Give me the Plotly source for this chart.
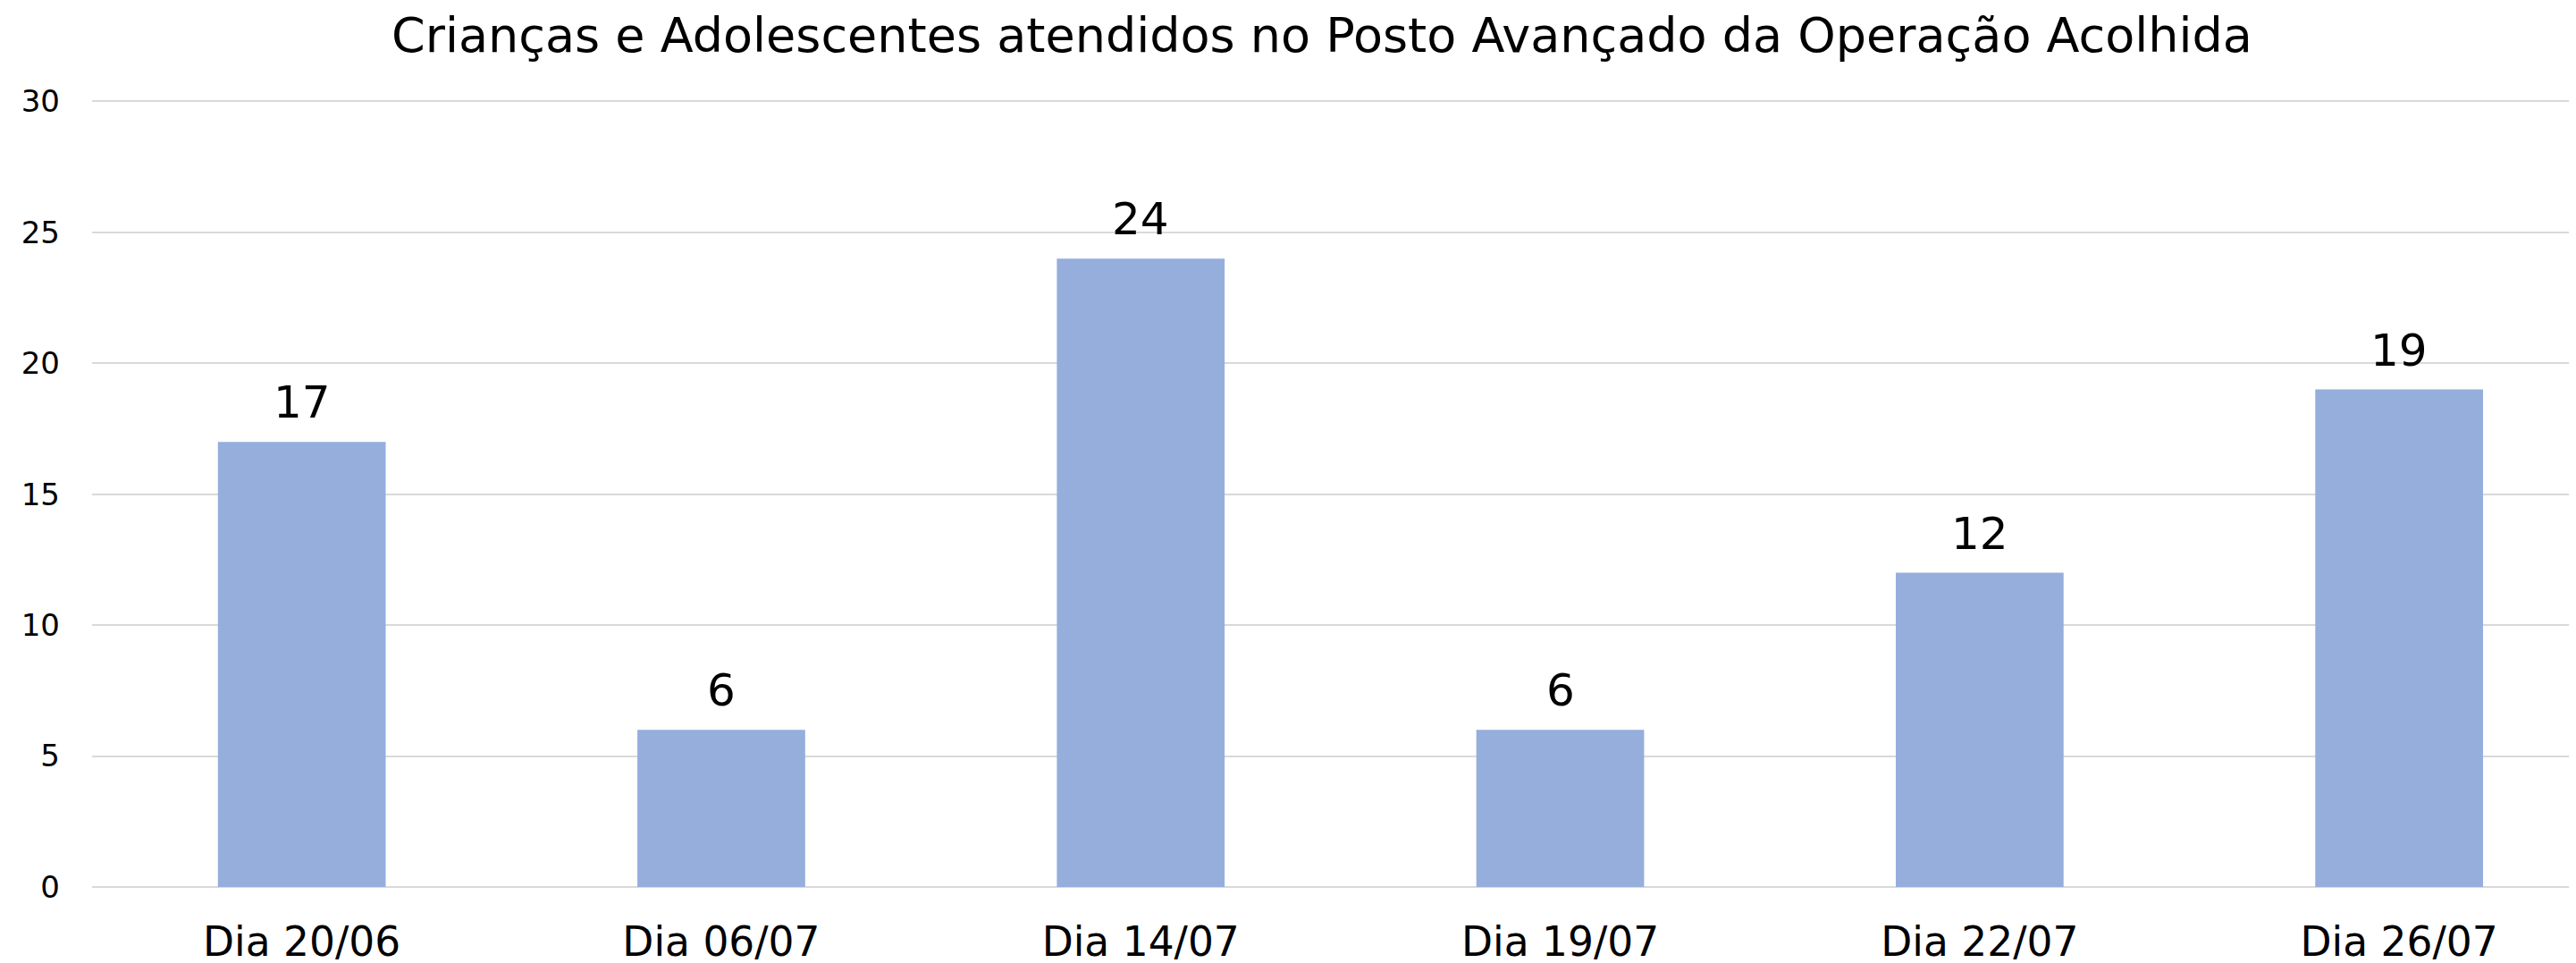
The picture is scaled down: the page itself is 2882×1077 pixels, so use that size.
import plotly.graph_objects as go

categories = ["Dia 20/06", "Dia 06/07", "Dia 14/07", "Dia 19/07", "Dia 22/07", "Dia 26/07"]
values = [17, 6, 24, 6, 12, 19]
y_ticks = [0, 5, 10, 15, 20, 25, 30]
title_text = "Crianças e Adolescentes atendidos no Posto Avançado da Operação Acolhida"

W, H = 2882, 1077
FONT = "DejaVu Sans"
BAR = "#95AEDC"
GRID = "#D9D9D9"

fig = go.Figure()
fig.add_trace(go.Bar(
    x=categories, y=values, marker=dict(color=BAR, line=dict(width=0)),
    width=0.4, hoverinfo="skip",
))

for c, v in zip(categories, values):
    fig.add_annotation(x=c, y=v, text=str(v), showarrow=False, yanchor="bottom",
                       yshift=13, font=dict(family=FONT, size=50, color="#000000"))

left = 95
plot_w = W - left
cat_w = 469.3
x_hi = -0.5 + plot_w / cat_w

fig.update_layout(
    width=W, height=H,
    margin=dict(l=left, r=0, t=104, b=H - 984, pad=0),
    paper_bgcolor="white", plot_bgcolor="white",
    showlegend=False,
    title=dict(text=title_text, x=1471 / W, xanchor="center", y=1 - 31 / H, yanchor="middle",
               font=dict(family=FONT, size=54, color="#000000")),
    xaxis=dict(type="category", range=[-0.5, x_hi], showgrid=False, showline=False,
               zeroline=False, ticks="", ticklabelstandoff=30,
               tickfont=dict(family=FONT, size=45.5, color="#000000")),
    yaxis=dict(range=[0, 30.05], tickvals=y_ticks, showgrid=True, gridcolor=GRID, gridwidth=2,
               zeroline=True, zerolinecolor=GRID, zerolinewidth=2, showline=False, ticks="",
               ticklabelstandoff=35,
               tickfont=dict(family=FONT, size=34, color="#000000")),
)

fig.write_html("out.html")
